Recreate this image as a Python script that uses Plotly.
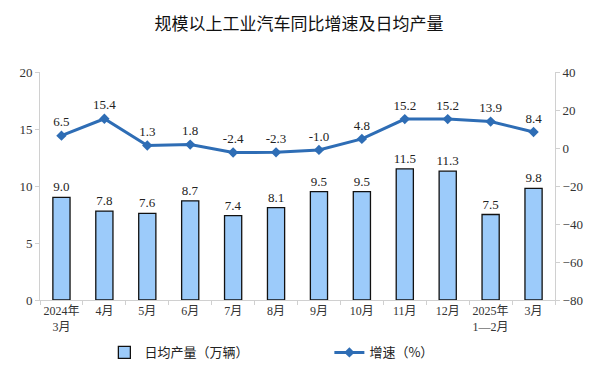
import plotly.graph_objects as go

categories = ["2024年<br>3月", "4月", "5月", "6月", "7月", "8月", "9月", "10月", "11月", "12月", "2025年<br>1—2月", "3月"]
daily_output = [9.0, 7.8, 7.6, 8.7, 7.4, 8.1, 9.5, 9.5, 11.5, 11.3, 7.5, 9.8]
growth = [6.5, 15.4, 1.3, 1.8, -2.4, -2.3, -1.0, 4.8, 15.2, 15.2, 13.9, 8.4]

serif = "Liberation Serif, Times New Roman, Noto Sans CJK SC, serif"
line_color = "#2E6DB5"

fig = go.Figure()
fig.add_trace(go.Bar(
    x=categories, y=daily_output, name="日均产量（万辆）",
    marker=dict(color="#9CCBFA", line=dict(color="#111111", width=1.3)),
    width=0.4,
    text=[f"{v:.1f}" for v in daily_output], textposition="outside",
    textfont=dict(family=serif, size=13, color="#222222"),
    constraintext="none",
    cliponaxis=False,
))
fig.add_trace(go.Scatter(
    x=categories, y=growth, name="增速（%）", yaxis="y2",
    mode="lines+markers+text",
    line=dict(color=line_color, width=3),
    marker=dict(symbol="diamond", size=8, color=line_color),
    text=[f"{v:.1f}" for v in growth], textposition="top center",
    textfont=dict(family=serif, size=13, color="#222222"),
    cliponaxis=False,
))

fig.update_layout(
    width=600, height=375,
    margin=dict(l=32, r=53, t=64, b=83, autoexpand=False),
    paper_bgcolor="white", plot_bgcolor="white",
    title=dict(text="规模以上工业汽车同比增速及日均产量", x=0.485, xanchor="center",
               y=0.958, yanchor="middle",
               font=dict(family="Noto Sans CJK SC", size=17, color="#111111")),
    font=dict(family=serif, size=12, color="#222222"),
    xaxis=dict(showline=True, linecolor="#D0D0D0", linewidth=1,
               range=[-0.5, len(categories) - 0.5],
               ticks="outside", ticklen=4, tickcolor="#D0D0D0",
               tickangle=0, automargin=False,
               tickfont=dict(family=serif, size=12, color="#333333"),
               showgrid=False, tickson="boundaries"),
    yaxis=dict(range=[0, 20], dtick=5, showline=True, linecolor="#D0D0D0",
               ticks="outside", ticklen=4, tickcolor="#D0D0D0",
               showgrid=False, zeroline=False, automargin=False,
               tickfont=dict(family=serif, size=13, color="#333333")),
    yaxis2=dict(range=[-80, 40], dtick=20, overlaying="y", side="right",
                showline=True, linecolor="#D0D0D0",
                ticks="outside", ticklen=4, tickcolor="#D0D0D0",
                showgrid=False, zeroline=False, automargin=False,
                tickfont=dict(family=serif, size=13, color="#333333")),
    legend=dict(orientation="h", x=0.125, xanchor="left", y=-0.23, yanchor="middle",
                entrywidth=180, entrywidthmode="pixels",
                font=dict(family="Noto Sans CJK SC", size=13, color="#222222")),
    bargap=0.6,
)

fig.write_html("out.html")
